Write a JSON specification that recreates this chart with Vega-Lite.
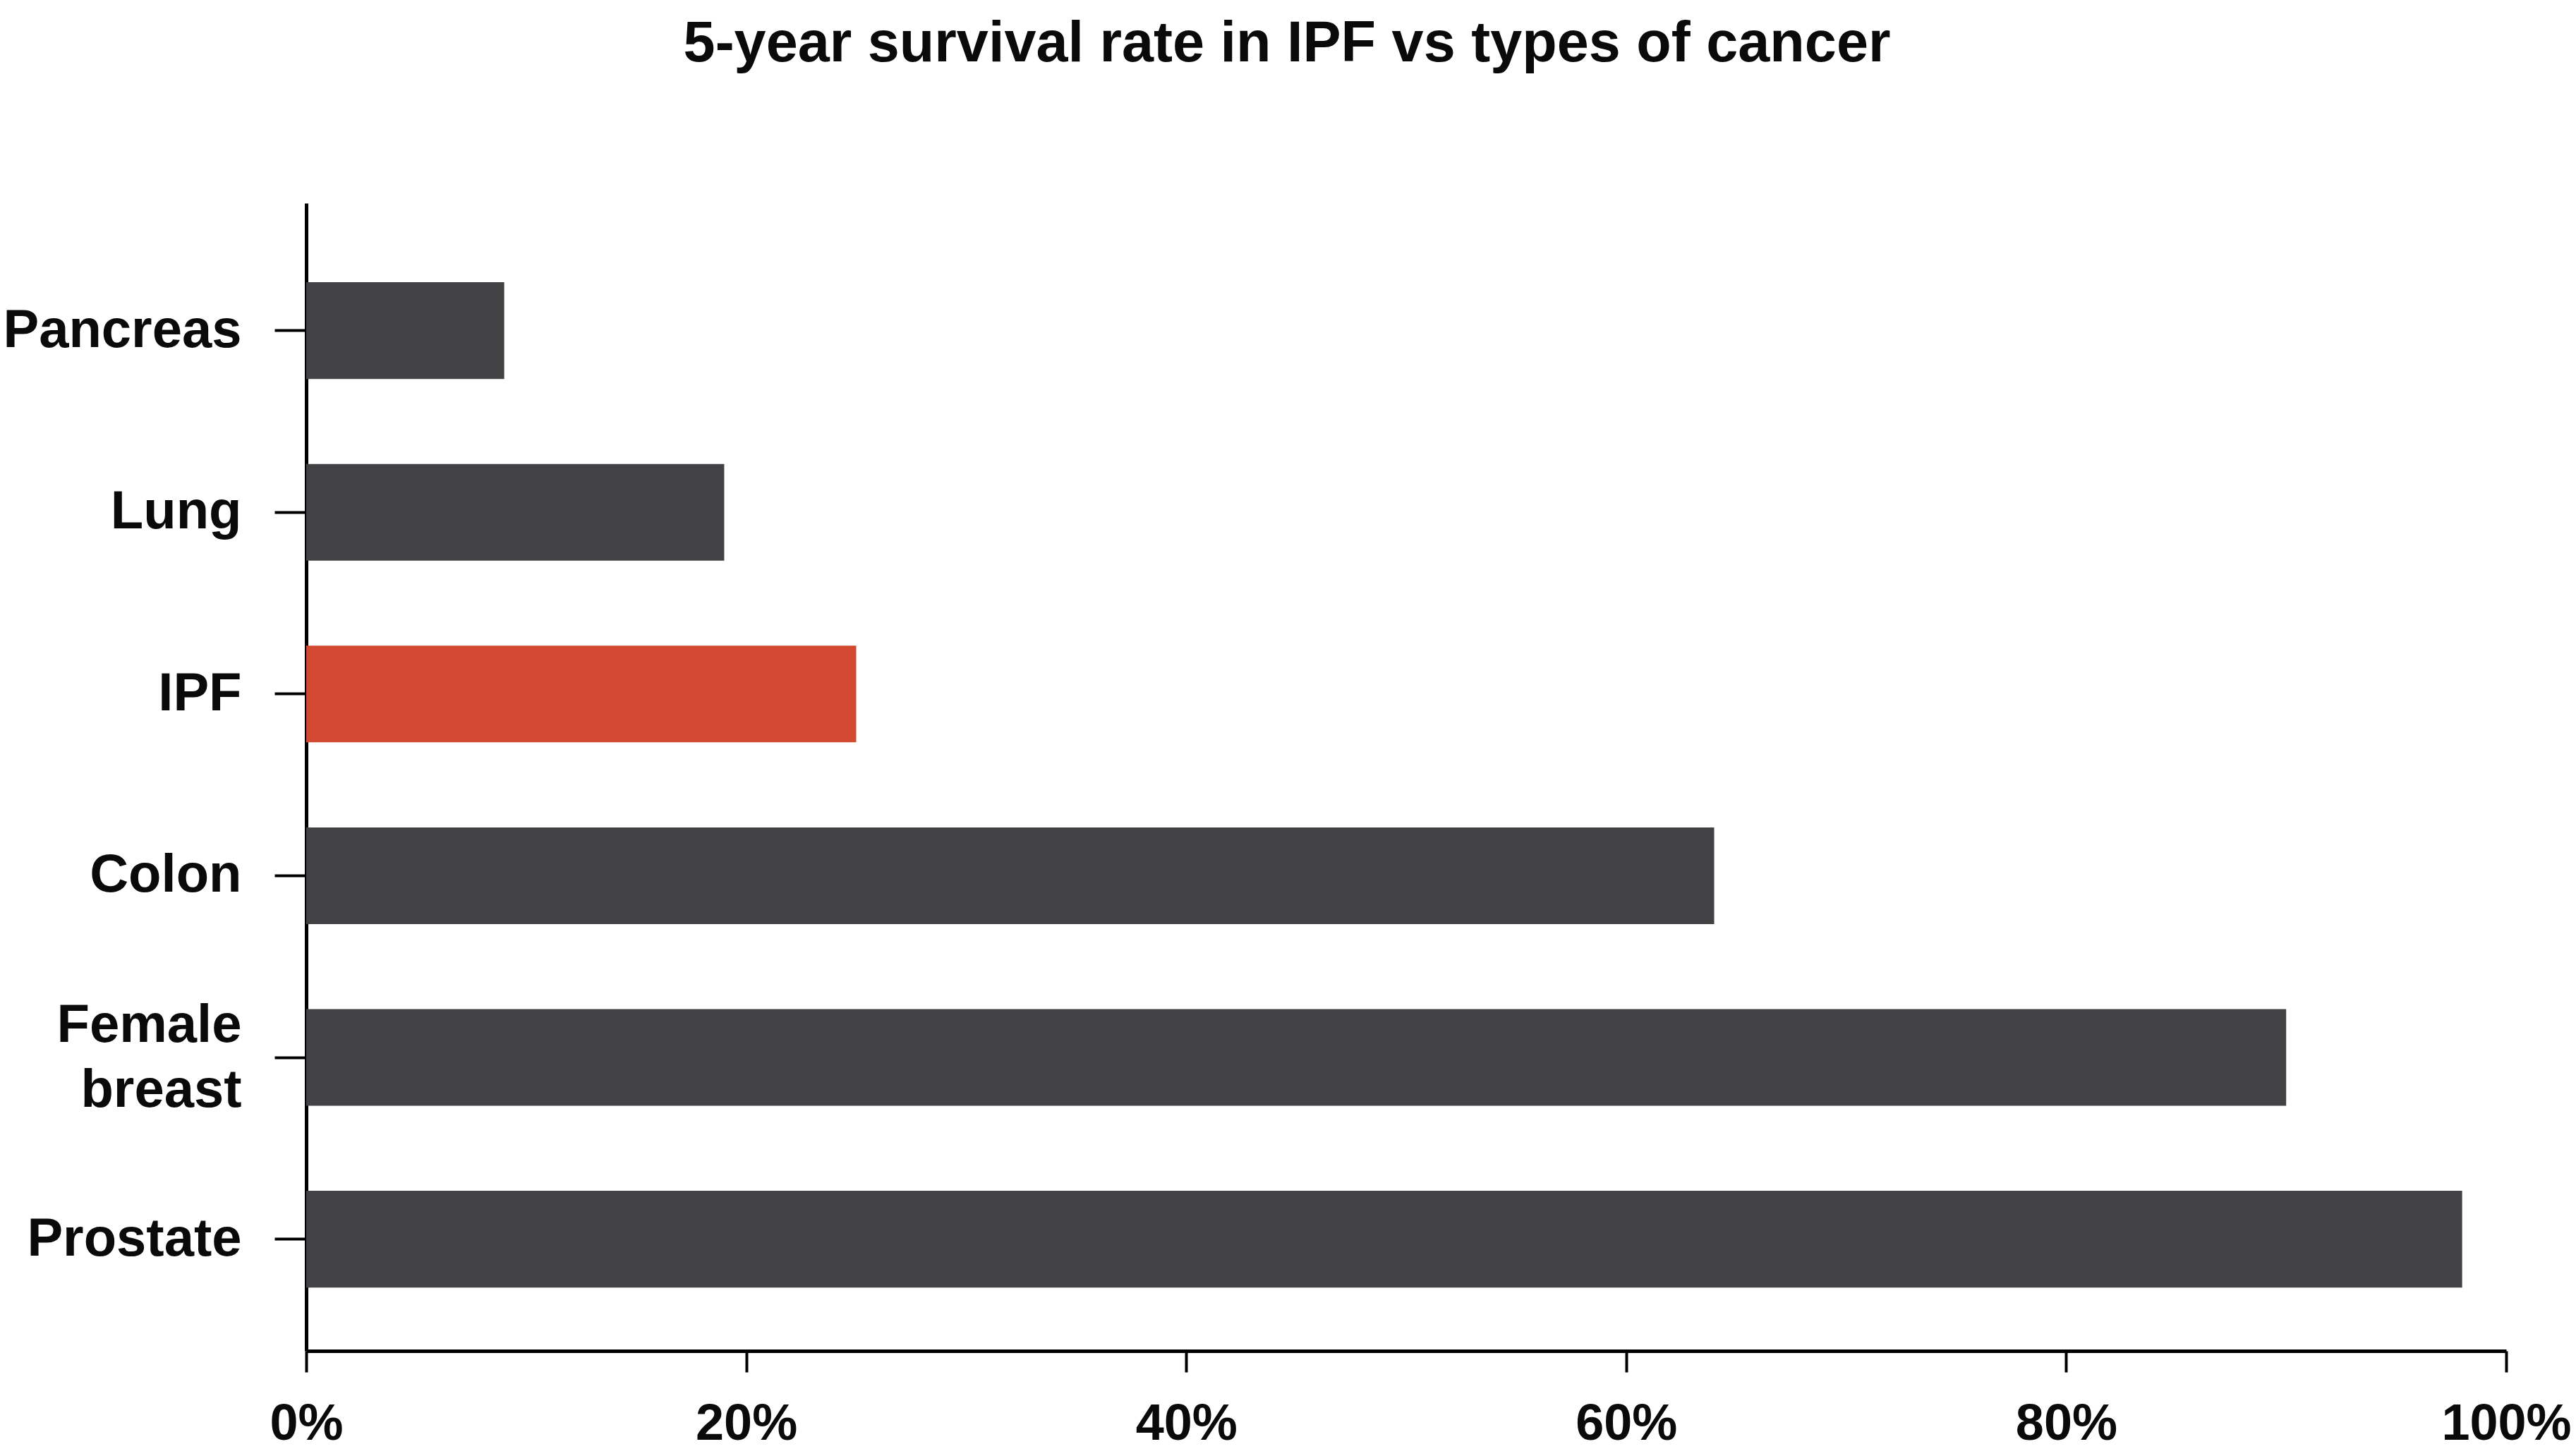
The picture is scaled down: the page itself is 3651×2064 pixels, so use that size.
{
  "$schema": "https://vega.github.io/schema/vega-lite/v6.json",
  "width": 3118,
  "height": 1627,
  "autosize": {"type": "none"},
  "padding": {"left": 434, "top": 288, "right": 99, "bottom": 149},
  "background": "#ffffff",
  "title": {
    "text": "5-year survival rate in IPF vs types of cancer",
    "font": "Liberation Sans",
    "fontWeight": "bold",
    "fontSize": 81,
    "color": "#0a0a0a",
    "anchor": "middle",
    "frame": "bounds",
    "baseline": "alphabetic",
    "offset": 120,
    "limit": 0
  },
  "data": {
    "values": [
      {"type": "Pancreas", "rate": 9},
      {"type": "Lung", "rate": 19},
      {"type": "IPF", "rate": 25},
      {"type": "Colon", "rate": 64},
      {"type": "Female breast", "rate": 90},
      {"type": "Prostate", "rate": 98}
    ]
  },
  "mark": {"type": "bar"},
  "encoding": {
    "y": {
      "field": "type",
      "type": "nominal",
      "sort": null,
      "title": null,
      "scale": {"paddingInner": 0.468, "paddingOuter": 0.392, "align": 0.555},
      "axis": {
        "labelFont": "Liberation Sans",
        "labelFontWeight": "bold",
        "labelFontSize": 76,
        "labelColor": "#0a0a0a",
        "labelPadding": 47,
        "labelLimit": 0,
        "labelLineHeight": 92,
        "labelOffset": {"condition": {"test": "datum.value == 'Female breast'", "value": -45}, "value": 0},
        "labelExpr": "datum.label == 'Female breast' ? ['Female', 'breast'] : datum.label",
        "tickSize": 45,
        "tickWidth": 4,
        "tickColor": "#000000",
        "domainColor": "#000000",
        "domainWidth": 5,
        "grid": false
      }
    },
    "x": {
      "field": "rate",
      "type": "quantitative",
      "title": null,
      "scale": {"domain": [0, 100], "nice": false},
      "axis": {
        "values": [0, 20, 40, 60, 80, 100],
        "labelExpr": "datum.value + '%'",
        "labelFont": "Liberation Sans",
        "labelFontWeight": "bold",
        "labelFontSize": 72,
        "labelColor": "#0a0a0a",
        "labelPadding": 38,
        "labelLimit": 0,
        "labelFlush": false,
        "labelOverlap": false,
        "tickSize": 30,
        "tickWidth": 4,
        "tickColor": "#000000",
        "domainColor": "#000000",
        "domainWidth": 5,
        "grid": false
      }
    },
    "color": {
      "condition": {"test": "datum.type === 'IPF'", "value": "#d24830"},
      "value": "#424244"
    }
  },
  "config": {
    "view": {"stroke": null}
  }
}
